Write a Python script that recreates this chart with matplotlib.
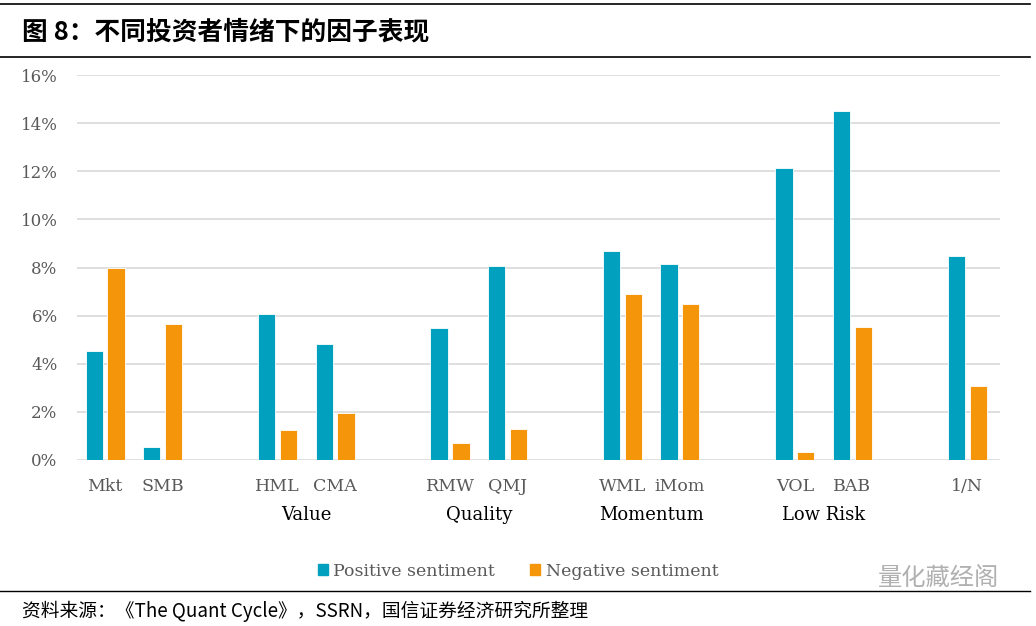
import numpy as np
import matplotlib
matplotlib.use("Agg")
import matplotlib.pyplot as plt
from matplotlib.lines import Line2D
from matplotlib.patches import Patch

# ── data ──────────────────────────────────────────────────────────────────────
factors  = ["Mkt", "SMB", "HML", "CMA", "RMW", "QMJ", "WML", "iMom", "VOL", "BAB", "1/N"]
slots    = [0, 1, 3, 4, 6, 7, 9, 10, 12, 13, 15]
positive = [4.53, 0.54, 6.07, 4.82, 5.49, 8.06, 8.69, 8.15, 12.14, 14.5, 8.48]
negative = [7.98, 5.65, 1.25, 1.95, 0.71, 1.29, 6.9, 6.48, 0.33, 5.53, 3.08]
groups   = ["Value", "Quality", "Momentum", "Low Risk"]
group_at = [3.5, 6.5, 9.5, 12.5]
yticks   = [0, 2, 4, 6, 8, 10, 12, 14, 16]

TEAL = "#00A0BE"
ORANGE = "#F5960A"
GREY = "#595959"
SERIF = ["DejaVu Serif"]
CJK = ["Noto Sans CJK SC", "DejaVu Sans"]

W, H = 1036, 626
fig = plt.figure(figsize=(W / 100, H / 100), dpi=100)

# ── plot area ─────────────────────────────────────────────────────────────────
ax = fig.add_axes([77 / W, 1 - 460 / H, (1000 - 77) / W, (460 - 75) / H])
x = np.array(slots, dtype=float)
bw = 0.3
ax.bar(x - 0.19, positive, bw, color=TEAL, edgecolor="white", linewidth=0.6, zorder=3)
ax.bar(x + 0.19, negative, bw, color=ORANGE, edgecolor="white", linewidth=0.6, zorder=3)

ax.set_xlim(-0.49, 15.57)
ax.set_ylim(0, 16)
ax.set_yticks(yticks)
ax.set_yticklabels([f"{v}%" for v in yticks], family=SERIF, fontsize=12, color=GREY)
ax.set_xticks(x)
ax.set_xticklabels(factors, family=SERIF, fontsize=12.5, color=GREY)
ax.tick_params(axis="both", length=0)
ax.tick_params(axis="x", pad=13)
ax.tick_params(axis="y", pad=14)
ax.grid(axis="y", color="#D9D9D9", linewidth=1.2, zorder=0)
for s in ax.spines.values():
    s.set_visible(False)

for g, gx in zip(groups, group_at):
    ax.text(gx, -2.3, g, family=SERIF, fontsize=13, color="black",
            ha="center", va="center")

handles = [Patch(color=TEAL), Patch(color=ORANGE)]
fig.legend(handles, ["Positive sentiment", "Negative sentiment"],
           loc="center", bbox_to_anchor=(518 / W, 1 - 571 / H), ncol=2,
           frameon=False, prop={"family": SERIF, "size": 12.5},
           handlelength=0.6, handleheight=0.6, handletextpad=0.3,
           columnspacing=2.0, labelcolor=GREY)

# ── title / footer ────────────────────────────────────────────────────────────
fig.add_artist(Line2D([0, 1030 / W], [1 - 4 / H] * 2, color="black", lw=1.2))
fig.add_artist(Line2D([0, 1030 / W], [1 - 57 / H] * 2, color="black", lw=1.2))
fig.add_artist(Line2D([0, 1030 / W], [1 - 591 / H] * 2, color="black", lw=1.0))
fig.text(22 / W, 1 - 32 / H, "图 8：不同投资者情绪下的因子表现", family=CJK,
         fontsize=18.5, fontweight="bold", ha="left", va="center")
fig.text(22 / W, 1 - 611 / H, "资料来源：《The Quant Cycle》，SSRN，国信证券经济研究所整理",
         family=CJK, fontsize=13.5, ha="left", va="center")
fig.text(878 / W, 1 - 578 / H, "量化藏经阁", family=CJK, fontsize=17.5,
         color="#B0B0B0", ha="left", va="center")

fig.savefig("out.png", dpi=100)
